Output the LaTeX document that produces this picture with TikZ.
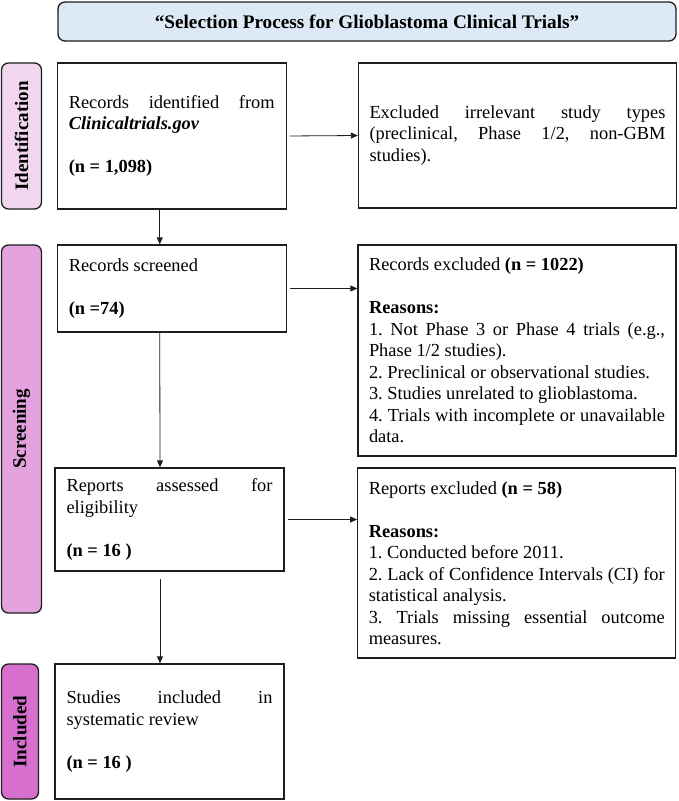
\documentclass[tikz,border=0pt]{standalone}
\usepackage{fontspec}
\setmainfont{Liberation Serif}
\usepackage{xcolor}
\usepackage{tikz}
\usetikzlibrary{arrows.meta,calc,positioning}
\definecolor{titlefill}{RGB}{221,233,246}
\definecolor{identfill}{RGB}{240,214,238}
\definecolor{screenfill}{RGB}{228,162,223}
\definecolor{inclfill}{RGB}{214,111,206}
\definecolor{edge}{RGB}{30,30,30}
\frenchspacing

\begin{document}
\begin{tikzpicture}[
  x=1pt, y=-1pt,
  font=\fontsize{18.4}{21.5}\selectfont,
  stepbox/.style={draw=edge, line width=1.3pt, rectangle, align=justify, inner xsep=11pt, inner ysep=4pt},
  leftbox/.style={stepbox, minimum width=229pt, text width=206pt},
  rightbox/.style={stepbox, minimum width=318pt, text width=296pt},
  phasetab/.style={draw=edge, line width=1.3pt, rounded corners=7pt, rotate=90, minimum height=40pt, inner sep=0pt, font=\fontsize{19}{22}\selectfont\bfseries},
  flow/.style={-{Triangle[length=7pt,width=6pt]}, line width=0.8pt, draw=edge}
]
\path[use as bounding box] (0,0) rectangle (678,801);
% Title banner
\node[draw=edge, line width=1.3pt, rounded corners=7pt, fill=titlefill, minimum width=618pt, minimum height=39pt, font=\fontsize{19.2}{22}\selectfont\bfseries] (title) at (367,21.5) {“Selection Process for Glioblastoma Clinical Trials”};

% Phase tabs
\node[phasetab, fill=identfill, minimum width=146pt] (tabid) at (21.5,136) {Identification};
\node[phasetab, fill=screenfill, minimum width=368pt] (tabscr) at (21.5,429) {Screening};
\node[phasetab, fill=inclfill, minimum width=135pt, minimum height=37pt] (tabinc) at (20,731.5) {Included};

% Left column
\node[leftbox, minimum height=146pt] (rec) at (171.75,136) {Records identified from\linebreak \textbf{\textit{Clinicaltrials.gov}}\\[21.5pt]\textbf{(n = 1,098)}};
\node[leftbox, minimum height=87pt] (scr) at (171.75,288.5) {Records screened\\[21.5pt]\textbf{(n =74)}};
\node[leftbox, minimum height=103pt] (asr) at (169.5,519.5) {Reports assessed for\linebreak eligibility\\[21.5pt]\textbf{(n = 16 )}};
\node[leftbox, minimum height=135pt] (inc) at (169.5,731.5) {Studies included in\linebreak systematic review\\[21.5pt]\textbf{(n = 16 )}};

% Right column
\node[rightbox, minimum height=145pt] (irr) at (517.5,135.5) {Excluded irrelevant study types\linebreak (preclinical, Phase 1/2, non-GBM\linebreak studies).};
\node[rightbox, minimum height=211pt] (rex) at (517,350.5) {Records excluded \textbf{(n = 1022)}\\[21.5pt]\textbf{Reasons:}\\1. Not Phase 3 or Phase 4 trials (e.g.,\linebreak Phase 1/2 studies).\\2. Preclinical or observational studies.\\3. Studies unrelated to glioblastoma.\\4. Trials with incomplete or unavailable\linebreak data.};
\node[rightbox, minimum height=190pt] (rpx) at (516.75,563) {Reports excluded \textbf{(n = 58)}\\[21.5pt]\textbf{Reasons:}\\1. Conducted before 2011.\\2. Lack of Confidence Intervals (CI) for\linebreak statistical analysis.\\3. Trials missing essential outcome\linebreak measures.};

% Connectors
\draw[flow, shorten <=3pt] (rec.east) -- (irr.west);
\draw[flow] ([xshift=-12pt]rec.south) -- ([xshift=-12pt]scr.north);
\draw[flow, shorten <=3pt] (scr.east) -- (scr.east -| rex.west);
\draw[flow] ([xshift=-12pt]scr.south) -- ([xshift=-9.5pt]asr.north);
\draw[flow, shorten <=3pt] (asr.east) -- (asr.east -| rpx.west);
\draw[flow, shorten <=7pt] ([xshift=-9.5pt]asr.south) -- ([xshift=-9.5pt]inc.north);
\end{tikzpicture}
\end{document}
